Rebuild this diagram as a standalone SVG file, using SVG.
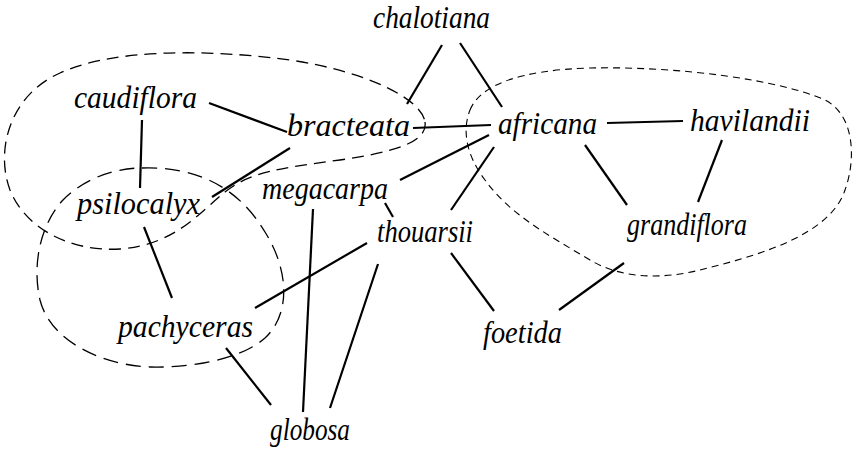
<svg xmlns="http://www.w3.org/2000/svg" width="854" height="464" viewBox="0 0 854 464">
<style>
.lbl{font-family:"Liberation Serif","DejaVu Serif",serif;font-style:italic;font-size:31px;fill:#000}
.e{stroke:#000;stroke-width:2.2;stroke-linecap:butt;fill:none}
.ga{fill:none;stroke:#000;stroke-width:1.3;stroke-dasharray:12 7}
.gb{fill:none;stroke:#000;stroke-width:1.3;stroke-dasharray:15 8}
.gc{fill:none;stroke:#000;stroke-width:1.1;stroke-dasharray:7 5}
</style>
<rect width="854" height="464" fill="#fff"/>
<g id="groups">
<path class="ga" d="M 425,122 C 428,142 395,152 340,160 C 280,168 250,172 225,192 C 200,212 175,245 120,249 C 70,252 25,228 10,190 C -5,150 10,95 60,73 C 110,50 200,48 290,60 C 370,72 422,100 425,122 Z"/>
<path class="gb" d="M 142,168 C 200,166 240,190 265,232 C 290,272 290,315 265,338 C 240,360 190,368 150,367 C 100,365 50,340 40,300 C 32,265 40,225 63,200 C 85,178 115,168 142,168 Z"/>
<path class="gc" d="M 470,110 C 480,85 520,70 590,68 C 680,66 780,80 825,100 C 855,115 856,160 845,190 C 830,235 760,255 700,270 C 660,280 620,278 590,260 C 550,236 510,215 485,180 C 466,155 462,130 470,110 Z"/>
</g>
<g id="connectors">
<line class="e" x1="442" y1="45" x2="407" y2="104"/>
<line class="e" x1="460" y1="43" x2="502" y2="107"/>
<line class="e" x1="209" y1="103" x2="287" y2="132"/>
<line class="e" x1="142" y1="120" x2="140" y2="188"/>
<line class="e" x1="413" y1="128" x2="491" y2="125"/>
<line class="e" x1="290" y1="148" x2="212" y2="197"/>
<line class="e" x1="400" y1="180" x2="489" y2="135"/>
<line class="e" x1="385" y1="203" x2="393" y2="217"/>
<line class="e" x1="494" y1="147" x2="451" y2="210"/>
<line class="e" x1="313" y1="209" x2="303" y2="412"/>
<line class="e" x1="367" y1="243" x2="255" y2="308"/>
<line class="e" x1="378" y1="264" x2="330" y2="408"/>
<line class="e" x1="226" y1="348" x2="271" y2="405"/>
<line class="e" x1="144" y1="227" x2="172" y2="298"/>
<line class="e" x1="607" y1="123" x2="683" y2="121"/>
<line class="e" x1="585" y1="145" x2="627" y2="205"/>
<line class="e" x1="722" y1="140" x2="698" y2="202"/>
<line class="e" x1="451" y1="253" x2="494" y2="311"/>
<line class="e" x1="624" y1="263" x2="559" y2="310"/>
</g>
<g id="chalotiana"><text class="lbl" x="373" y="28" textLength="117" lengthAdjust="spacingAndGlyphs">chalotiana</text></g>
<g id="caudiflora"><text class="lbl" x="74" y="108" textLength="123" lengthAdjust="spacingAndGlyphs">caudiflora</text></g>
<g id="bracteata"><text class="lbl" x="287" y="136" textLength="123" lengthAdjust="spacingAndGlyphs">bracteata</text></g>
<g id="africana"><text class="lbl" x="498" y="134" textLength="99" lengthAdjust="spacingAndGlyphs">africana</text></g>
<g id="havilandii"><text class="lbl" x="690" y="131" textLength="120" lengthAdjust="spacingAndGlyphs">havilandii</text></g>
<g id="psilocalyx"><text class="lbl" x="77" y="214" textLength="123" lengthAdjust="spacingAndGlyphs">psilocalyx</text></g>
<g id="megacarpa"><text class="lbl" x="262" y="199" textLength="126" lengthAdjust="spacingAndGlyphs">megacarpa</text></g>
<g id="thouarsii"><text class="lbl" x="377" y="242" textLength="96" lengthAdjust="spacingAndGlyphs">thouarsii</text></g>
<g id="grandiflora"><text class="lbl" x="627" y="235" textLength="120" lengthAdjust="spacingAndGlyphs">grandiflora</text></g>
<g id="pachyceras"><text class="lbl" x="118" y="337" textLength="135" lengthAdjust="spacingAndGlyphs">pachyceras</text></g>
<g id="foetida"><text class="lbl" x="483" y="343" textLength="79" lengthAdjust="spacingAndGlyphs">foetida</text></g>
<g id="globosa"><text class="lbl" x="270" y="440" textLength="80" lengthAdjust="spacingAndGlyphs">globosa</text></g>
</svg>
